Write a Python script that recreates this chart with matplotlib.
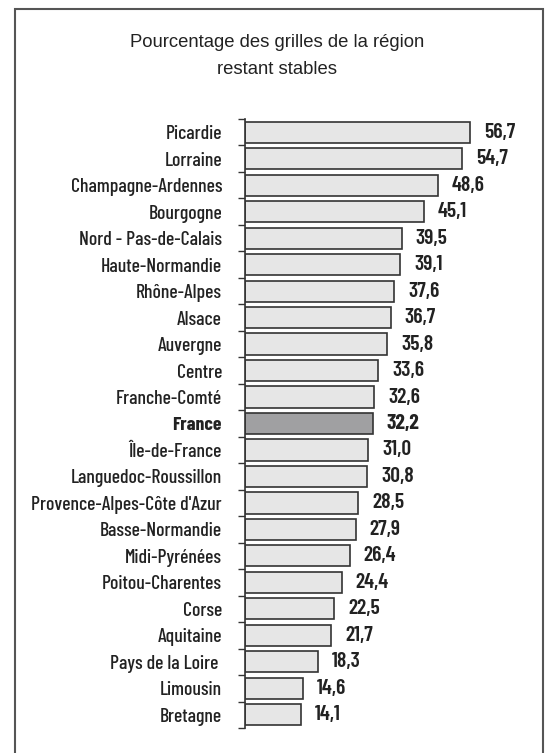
import matplotlib
matplotlib.use("Agg")
import matplotlib.pyplot as plt
from matplotlib.patches import Rectangle
import numpy as np

regions = ["Picardie", "Lorraine", "Champagne-Ardennes", "Bourgogne",
           "Nord - Pas-de-Calais", "Haute-Normandie", "Rhône-Alpes", "Alsace",
           "Auvergne", "Centre", "Franche-Comté", "France", "Île-de-France",
           "Languedoc-Roussillon", "Provence-Alpes-Côte d'Azur", "Basse-Normandie",
           "Midi-Pyrénées", "Poitou-Charentes", "Corse", "Aquitaine",
           "Pays de la Loire ", "Limousin", "Bretagne"]
values = [56.7, 54.7, 48.6, 45.1, 39.5, 39.1, 37.6, 36.7, 35.8, 33.6, 32.6,
          32.2, 31.0, 30.8, 28.5, 27.9, 26.4, 24.4, 22.5, 21.7, 18.3, 14.6, 14.1]
highlight = "France"
title = "Pourcentage des grilles de la région\nrestant stables"

narrow = ["Barlow Condensed", "DejaVu Sans"]

W, H = 549, 753
fig = plt.figure(figsize=(W / 100, H / 100), dpi=100)
fig.patch.set_facecolor("white")

# frame
fig.patches.append(Rectangle((14.5 / W, -0.05), (542.5 - 14.5) / W, 1.05 - 9.5 / H,
                             transform=fig.transFigure, fill=False,
                             edgecolor="#555555", linewidth=1.5))

fig.text(277 / W, 1 - 56 / H, title, ha="center", va="center",
         fontsize=13.3, family=["Liberation Sans", "DejaVu Sans"],
         color="#222222", linespacing=1.75)

ax_left, ax_right = 245 / W, 513 / W
ax_top, ax_bottom = 1 - 119 / H, 1 - 728 / H
ax = fig.add_axes([ax_left, ax_bottom, ax_right - ax_left, ax_top - ax_bottom])

n = len(regions)
y = np.arange(n)
colors = ["#a0a0a2" if r == highlight else "#e6e6e6" for r in regions]
ax.barh(y, values, height=0.8, color=colors, edgecolor="#333333", linewidth=1.2)
ax.set_ylim(n - 0.5, -0.5)
ax.set_xlim(0, 67.5)

for yi, v, r in zip(y, values, regions):
    ax.annotate(f"{v:.1f}".replace(".", ","), (v, yi), xytext=(10, 0),
                textcoords="offset points", va="center", ha="left",
                fontsize=15.5, family=narrow,
                fontweight="bold" if r == highlight else "semibold",
                color="#222222")

ax.set_yticks(y)
ax.set_yticklabels(regions, family=narrow, fontsize=14.2)
for lbl in ax.get_yticklabels():
    if lbl.get_text() == highlight:
        lbl.set_fontweight("bold")
    else:
        lbl.set_fontweight("medium")
    lbl.set_color("#222222")
ax.tick_params(axis="y", which="major", length=0, pad=16.5)
ax.set_yticks(np.arange(n + 1) - 0.5, minor=True)
ax.tick_params(axis="y", which="minor", length=5, width=1, color="#333333", direction="out")
ax.set_xticks([])
for s in ["top", "right", "bottom"]:
    ax.spines[s].set_visible(False)
ax.spines["left"].set_color("#333333")
ax.spines["left"].set_linewidth(1.2)
ax.set_facecolor("none")

fig.savefig("out.png", dpi=100)
